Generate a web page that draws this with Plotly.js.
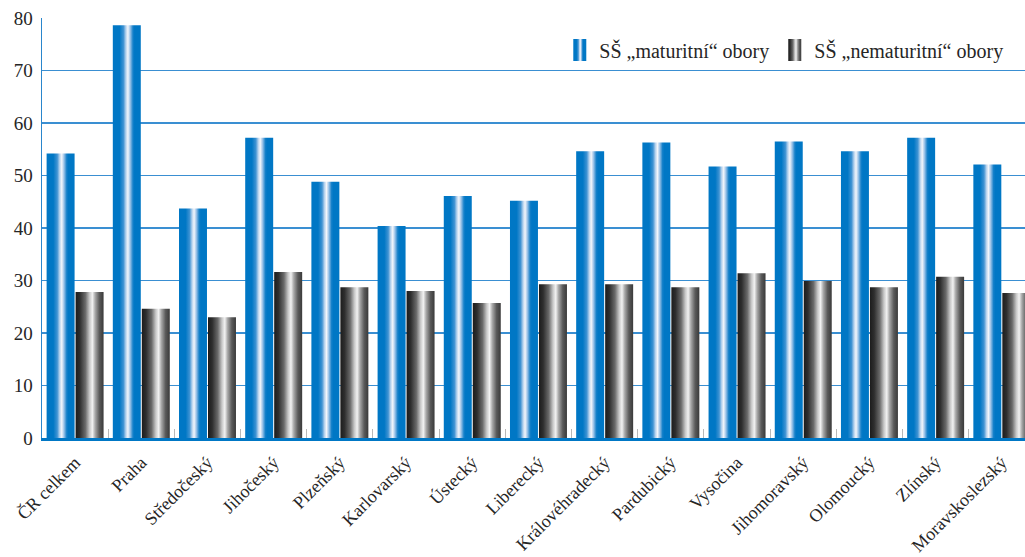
<!DOCTYPE html>
<html>
<head>
<meta charset="utf-8">
<script src="https://cdn.plot.ly/plotly-3.0.1.min.js"></script>
<style>
  html, body { margin: 0; padding: 0; background: #fff; overflow: hidden; }
  #chart { width: 1025px; height: 557px; }
</style>
</head>
<body>
<div id="chart"></div>
<script>
const regions = ["ČR celkem", "Praha", "Středočeský", "Jihočeský", "Plzeňský", "Karlovarský", "Ústecký", "Liberecký", "Královéhradecký", "Pardubický", "Vysočina", "Jihomoravský", "Olomoucký", "Zlínský", "Moravskoslezský"];
const maturitni = [54.2, 78.6, 43.7, 57.2, 48.8, 40.4, 46.1, 45.2, 54.6, 56.3, 51.7, 56.5, 54.6, 57.2, 52.1];
const nematuritni = [27.8, 24.6, 23.0, 31.6, 28.7, 28.0, 25.7, 29.3, 29.3, 28.7, 31.4, 29.9, 28.7, 30.7, 27.6];
const seriesNames = ["SŠ „maturitní“ obory", "SŠ „nematuritní“ obory"];
const yTicks = [0, 10, 20, 30, 40, 50, 60, 70, 80];

const serif = "Liberation Serif, DejaVu Serif, serif";
const textColor = "#262626";

const traces = [
  { type: "bar", name: seriesNames[0], x: regions, y: maturitni,
    marker: { color: "#0077c5", line: { width: 0 } }, hoverinfo: "x+y" },
  { type: "bar", name: seriesNames[1], x: regions, y: nematuritni,
    marker: { color: "#555555", line: { width: 0 } }, hoverinfo: "x+y" }
];

const layout = {
  width: 1025, height: 557,
  margin: { l: 42, r: 0, t: 18, b: 119 },
  paper_bgcolor: "#ffffff", plot_bgcolor: "#ffffff",
  barmode: "group", bargap: 0.124, bargroupgap: 0.035,
  showlegend: true,
  legend: {
    orientation: "h", x: 0.983, xanchor: "right", y: 0.97, yanchor: "top",
    bgcolor: "rgba(255,255,255,1)", font: { family: serif, size: 20, color: textColor },
    itemwidth: 30, traceorder: "normal"
  },
  xaxis: {
    type: "category", range: [-0.5, 14.35],
    showline: true, linecolor: "#0077c5", linewidth: 3,
    ticks: "inside", tickson: "boundaries", ticklen: 9, tickcolor: "#b8b8b8", tickwidth: 1,
    tickangle: -45, tickfont: { family: serif, size: 18, color: textColor },
    ticklabelstandoff: 4,
    showgrid: false, zeroline: false, fixedrange: true
  },
  yaxis: {
    range: [0, 80], tickvals: yTicks, ticktext: yTicks.map(String),
    showline: true, linecolor: "#2a86cc", linewidth: 1.5,
    showgrid: true, gridcolor: "#3a8fd2", gridwidth: 1.5,
    zeroline: false, ticks: "",
    tickfont: { family: serif, size: 19, color: textColor },
    ticklabelstandoff: 4, fixedrange: true
  }
};

const gradients = {
  gBlue: [[0, "#0077c5"], [0.24, "#0077c5"], [0.38, "#3f93d3"], [0.47, "#b9d4ee"], [0.54, "#f3f6fb"], [0.62, "#9cc3e8"], [0.72, "#1580c9"], [0.78, "#0077c5"], [1, "#0077c5"]],
  gGray: [[0, "#1c1c1c"], [0.15, "#2e2e2e"], [0.35, "#6a6a6a"], [0.5, "#c8c8c8"], [0.6, "#f2f2f2"], [0.7, "#a8a8a8"], [0.85, "#5a5a5a"], [1, "#3a3a3a"]]
};

Plotly.newPlot("chart", traces, layout, { displayModeBar: false, staticPlot: true }).then(gd => {
  const NS = "http://www.w3.org/2000/svg";
  const svg = gd.querySelector("svg.main-svg");
  let defs = svg.querySelector("defs");
  if (!defs) { defs = document.createElementNS(NS, "defs"); svg.insertBefore(defs, svg.firstChild); }
  Object.keys(gradients).forEach(id => {
    const lg = document.createElementNS(NS, "linearGradient");
    lg.setAttribute("id", id);
    lg.setAttribute("x1", "0"); lg.setAttribute("y1", "0");
    lg.setAttribute("x2", "1"); lg.setAttribute("y2", "0");
    gradients[id].forEach(([o, c]) => {
      const s = document.createElementNS(NS, "stop");
      s.setAttribute("offset", o);
      s.setAttribute("stop-color", c);
      lg.appendChild(s);
    });
    defs.appendChild(lg);
  });
  const ids = ["gBlue", "gGray"];
  gd.querySelectorAll(".barlayer .trace").forEach((tr, i) => {
    tr.querySelectorAll("path").forEach(p => { p.style.fill = "url(#" + ids[i] + ")"; });
  });
  gd.querySelectorAll(".legend .traces").forEach((tr, i) => {
    tr.querySelectorAll(".legendpoints path").forEach(p => {
      p.setAttribute("d", "M7,11H-6V-11H7Z");
      p.style.fill = "url(#" + ids[i] + ")";
    });
  });
});
</script>
</body>
</html>
